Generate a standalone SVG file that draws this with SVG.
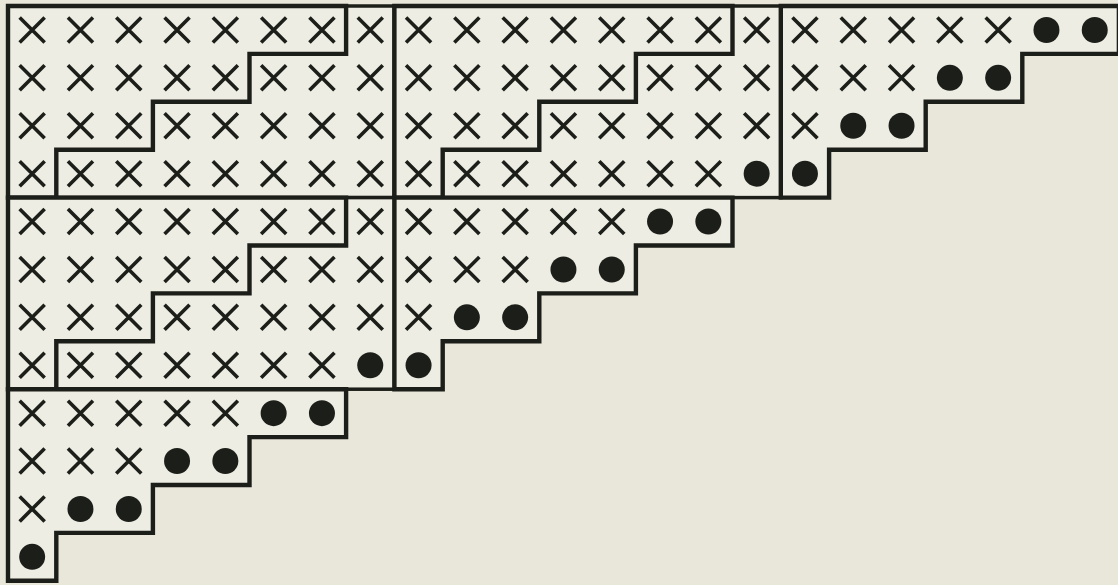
<svg xmlns="http://www.w3.org/2000/svg" xmlns:xlink="http://www.w3.org/1999/xlink" width="1118" height="585" viewBox="0 0 1118 585">
  <style>
    .bg { fill: #e9e6da; }
    .frame { fill: none; stroke: #1c1f19; stroke-width: 3.5; }
    .stair { fill: #eeede3; stroke: #1c1f19; stroke-width: 4.4; stroke-linejoin: miter; }
    .rectfill { fill: #eeede3; stroke: none; }
    .x { fill: none; stroke: #1c1f19; stroke-width: 3.6; }
    .dot { fill: #1c1f19; }
  </style>
  <defs>
    <path id="xm" class="x" d="M-12.5,-12.5 L12.5,12.5 M12.5,-12.5 L-12.5,12.5"/>
    <circle id="dm" class="dot" r="13"/>
    <path id="stairShape" d="M0,0 H338.1 V47.9 H241.5 V95.8 H144.9 V143.7 H48.3 V191.6 H0 Z"/>
    <g id="xrow8">
      <use xlink:href="#xm" x="24.15"/><use xlink:href="#xm" x="72.45"/><use xlink:href="#xm" x="120.75"/><use xlink:href="#xm" x="169.05"/>
      <use xlink:href="#xm" x="217.35"/><use xlink:href="#xm" x="265.65"/><use xlink:href="#xm" x="313.95"/><use xlink:href="#xm" x="362.25"/>
    </g>
    <g id="xrow7">
      <use xlink:href="#xm" x="24.15"/><use xlink:href="#xm" x="72.45"/><use xlink:href="#xm" x="120.75"/><use xlink:href="#xm" x="169.05"/>
      <use xlink:href="#xm" x="217.35"/><use xlink:href="#xm" x="265.65"/><use xlink:href="#xm" x="313.95"/>
    </g>
    <g id="triContent">
      <use xlink:href="#xm" x="24.15" y="23.95"/><use xlink:href="#xm" x="72.45" y="23.95"/><use xlink:href="#xm" x="120.75" y="23.95"/><use xlink:href="#xm" x="169.05" y="23.95"/><use xlink:href="#xm" x="217.35" y="23.95"/>
      <use xlink:href="#dm" x="265.65" y="23.95"/><use xlink:href="#dm" x="313.95" y="23.95"/>
      <use xlink:href="#xm" x="24.15" y="71.85"/><use xlink:href="#xm" x="72.45" y="71.85"/><use xlink:href="#xm" x="120.75" y="71.85"/>
      <use xlink:href="#dm" x="169.05" y="71.85"/><use xlink:href="#dm" x="217.35" y="71.85"/>
      <use xlink:href="#xm" x="24.15" y="119.75"/>
      <use xlink:href="#dm" x="72.45" y="119.75"/><use xlink:href="#dm" x="120.75" y="119.75"/>
      <use xlink:href="#dm" x="24.15" y="167.65"/>
    </g>
  </defs>
  <rect class="bg" x="0" y="0" width="1118" height="585"/>

  <!-- block row 1, col 1: full -->
  <g id="block-r1c1" transform="translate(8,6)">
    <rect class="rectfill" x="0" y="0" width="386.4" height="191.6"/>
    <rect class="frame" x="0" y="0" width="386.4" height="191.6"/>
    <use xlink:href="#stairShape" class="stair"/>
    <use xlink:href="#xrow8" y="23.95"/>
    <use xlink:href="#xrow8" y="71.85"/>
    <use xlink:href="#xrow8" y="119.75"/>
    <use xlink:href="#xrow8" y="167.65"/>
  </g>

  <!-- block row 1, col 2: full with one dot -->
  <g id="block-r1c2" transform="translate(394.4,6)">
    <rect class="rectfill" x="0" y="0" width="386.4" height="191.6"/>
    <rect class="frame" x="0" y="0" width="386.4" height="191.6"/>
    <use xlink:href="#stairShape" class="stair"/>
    <use xlink:href="#xrow8" y="23.95"/>
    <use xlink:href="#xrow8" y="71.85"/>
    <use xlink:href="#xrow8" y="119.75"/>
    <use xlink:href="#xrow7" y="167.65"/>
    <use xlink:href="#dm" x="362.25" y="167.65"/>
  </g>

  <!-- block row 1, col 3: staircase -->
  <g id="block-r1c3" transform="translate(780.8,6)">
    <use xlink:href="#stairShape" class="stair"/>
    <use xlink:href="#triContent"/>
  </g>

  <!-- block row 2, col 1: full with one dot -->
  <g id="block-r2c1" transform="translate(8,197.6)">
    <rect class="rectfill" x="0" y="0" width="386.4" height="191.6"/>
    <rect class="frame" x="0" y="0" width="386.4" height="191.6"/>
    <use xlink:href="#stairShape" class="stair"/>
    <use xlink:href="#xrow8" y="23.95"/>
    <use xlink:href="#xrow8" y="71.85"/>
    <use xlink:href="#xrow8" y="119.75"/>
    <use xlink:href="#xrow7" y="167.65"/>
    <use xlink:href="#dm" x="362.25" y="167.65"/>
  </g>

  <!-- block row 2, col 2: staircase -->
  <g id="block-r2c2" transform="translate(394.4,197.6)">
    <use xlink:href="#stairShape" class="stair"/>
    <use xlink:href="#triContent"/>
  </g>

  <!-- block row 3, col 1: staircase -->
  <g id="block-r3c1" transform="translate(8,389.2)">
    <use xlink:href="#stairShape" class="stair"/>
    <use xlink:href="#triContent"/>
  </g>

  <g id="connectors"/>
</svg>
